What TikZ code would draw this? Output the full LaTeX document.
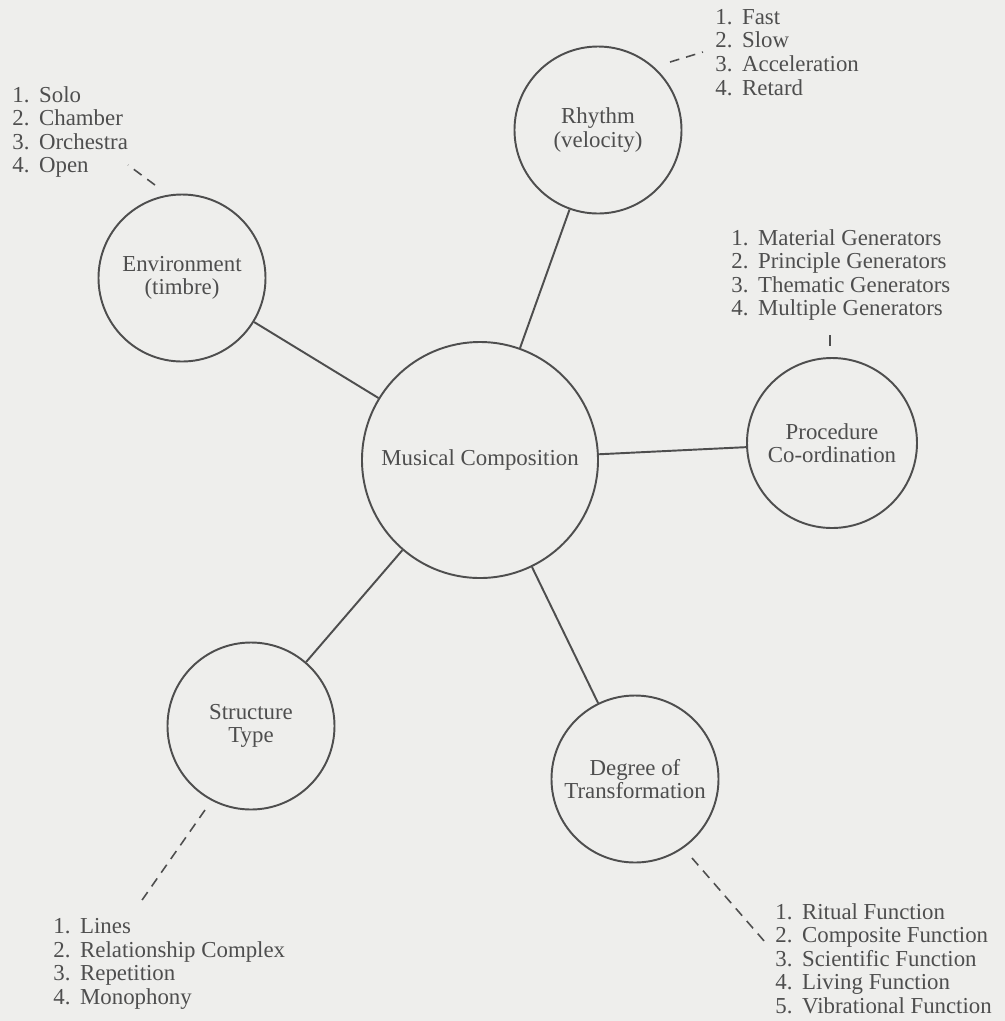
\documentclass[tikz,border=0pt]{standalone}
\usepackage{fontspec}
\setmainfont{Liberation Serif}
\definecolor{paper}{RGB}{238,238,236}
\definecolor{ink}{RGB}{78,78,78}
\newcommand{\itm}[2]{#1.\hspace{5.5pt}#2}
\begin{document}
\begin{tikzpicture}[x=0.2mm,y=-0.2mm,
  every node/.style={text=ink,font=\fontsize{13}{13.4}\selectfont},
  bubble/.style={circle,draw=ink,line width=1.1pt,minimum size=33.4mm,align=center,inner sep=0pt},
  hub/.style={bubble,minimum size=47.2mm},
  items/.style={anchor=north west,align=left,inner sep=0pt},
  link/.style={draw=ink,line width=1.1pt},
  leader/.style={draw=ink,line width=0.9pt,dash pattern=on 5.5pt off 4pt}]
\fill[paper] (0,0) rectangle (1005,1021);
\useasboundingbox (0,0) rectangle (1005,1021);

% circles
\node[hub] (comp) at (480,460) {Musical Composition};
\node[bubble] (rhythm) at (598,130) {Rhythm\\(velocity)};
\node[bubble] (env) at (182,278) {Environment\\(timbre)};
\node[bubble,minimum size=34mm] (proc) at (832,443) {Procedure\\Co-ordination};
\node[bubble] (struct) at (251,726) {Structure\\Type};
\node[bubble] (degree) at (635,779) {Degree of\\Transformation};

\draw[link] (comp) -- (rhythm);
\draw[link] (comp) -- (env);
\draw[link] (comp) -- (proc);
\draw[link] (comp) -- (struct);
\draw[link] (comp) -- (degree);

% lists
\node[items] (timbre) at (12,86) {\itm{1}{Solo}\\\itm{2}{Chamber}\\\itm{3}{Orchestra}\\\itm{4}{Open}};
\node[items] (speed) at (715,9) {\itm{1}{Fast}\\\itm{2}{Slow}\\\itm{3}{Acceleration}\\\itm{4}{Retard}};
\node[items] (gens) at (731,229) {\itm{1}{Material Generators}\\\itm{2}{Principle Generators}\\\itm{3}{Thematic Generators}\\\itm{4}{Multiple Generators}};
\node[items] (kinds) at (53,918) {\itm{1}{Lines}\\\itm{2}{Relationship Complex}\\\itm{3}{Repetition}\\\itm{4}{Monophony}};
\node[items] (funcs) at (775,903) {\itm{1}{Ritual Function}\\\itm{2}{Composite Function}\\\itm{3}{Scientific Function}\\\itm{4}{Living Function}\\\itm{5}{Vibrational Function}};

% leaders
\coordinate (ea) at (155,185); \coordinate (eb) at (128,165);
\coordinate (ra) at (670,62);  \coordinate (rb) at (703,52);
\coordinate (pa) at (830,335); \coordinate (pb) at (830,346);
\coordinate (sa) at (205,810); \coordinate (sb) at (140,903);
\coordinate (da) at (692,858); \coordinate (db) at (765,942);
\draw[leader] (ea) -- (eb);
\draw[leader] (ra) -- (rb);
\draw[link,line width=0.9pt] (pa) -- (pb);
\draw[leader] (sa) -- (sb);
\draw[leader] (da) -- (db);
\end{tikzpicture}
\end{document}
